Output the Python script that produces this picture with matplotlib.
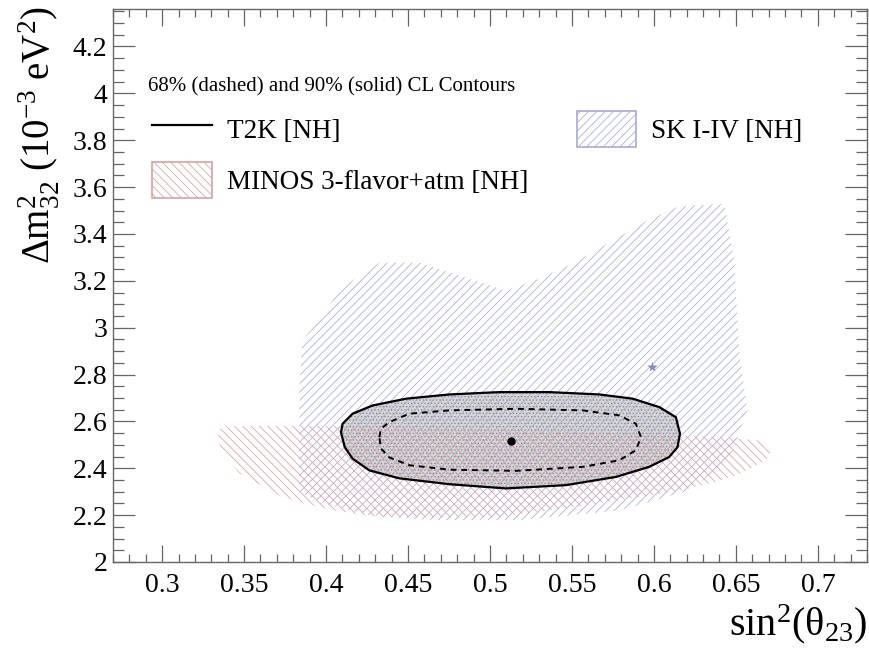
import matplotlib
matplotlib.use("Agg")
import matplotlib.pyplot as plt
from matplotlib.lines import Line2D
from matplotlib.patches import Patch, Polygon
from matplotlib.ticker import MultipleLocator, FormatStrFormatter

plt.rcParams['font.family'] = ['Liberation Serif', 'DejaVu Serif']
plt.rcParams['mathtext.fontset'] = 'custom'
plt.rcParams['mathtext.rm'] = 'Liberation Serif'
plt.rcParams['mathtext.it'] = 'Liberation Serif:italic'
plt.rcParams['hatch.linewidth'] = 0.55

# --- contours: (sin^2 theta23, dm2_32 [1e-3 eV^2]) ---
t2k90_x = [0.4091, 0.4101, 0.4162, 0.4284, 0.4488, 0.4752, 0.5057, 0.5362, 0.5667,
           0.5870, 0.6033, 0.6134, 0.6159, 0.6144, 0.6093, 0.5971, 0.5768, 0.5463,
           0.5098, 0.4752, 0.4447, 0.4264, 0.4162, 0.4114]
t2k90_y = [2.554, 2.590, 2.633, 2.668, 2.697, 2.715, 2.725, 2.725, 2.715,
           2.697, 2.661, 2.618, 2.548, 2.490, 2.448, 2.406, 2.363, 2.328,
           2.314, 2.332, 2.357, 2.391, 2.441, 2.490]

t2k68_x = [0.4325, 0.4335, 0.4386, 0.4508, 0.4752, 0.5159, 0.5565, 0.5788, 0.5890,
           0.5921, 0.5890, 0.5788, 0.5565, 0.5159, 0.4752, 0.4508, 0.4386, 0.4335]
t2k68_y = [2.533, 2.569, 2.597, 2.633, 2.647, 2.654, 2.647, 2.626, 2.590,
           2.533, 2.477, 2.434, 2.406, 2.389, 2.394, 2.413, 2.446, 2.484]

sk90_x = [0.3837, 0.3837, 0.3855, 0.3940, 0.4080, 0.4160, 0.4325, 0.4570, 0.4855,
          0.5100, 0.5300, 0.5500, 0.5746, 0.5953, 0.6155, 0.6430, 0.6490, 0.6520,
          0.6570, 0.6460, 0.6216, 0.5790, 0.5180, 0.4630, 0.4265, 0.4020, 0.3870]
sk90_y = [2.306, 2.732, 2.945, 3.017, 3.157, 3.200, 3.277, 3.277, 3.213,
          3.157, 3.209, 3.272, 3.370, 3.455, 3.519, 3.528, 3.285, 2.900,
          2.647, 2.434, 2.306, 2.220, 2.179, 2.179, 2.200, 2.243, 2.285]

minos90_x = [0.3337, 0.3360, 0.3837, 0.4750, 0.5667, 0.6440, 0.6640, 0.6720, 0.6686,
             0.6478, 0.6170, 0.5667, 0.5057, 0.4340, 0.4038, 0.3730, 0.3470, 0.3360]
minos90_y = [2.532, 2.579, 2.583, 2.570, 2.553, 2.532, 2.519, 2.477, 2.434,
             2.362, 2.306, 2.251, 2.191, 2.191, 2.221, 2.277, 2.379, 2.477]

t2k_best = (0.5128, 2.515)
sk_best = (0.599, 2.831)

sk_col = '#a8a8dc'
minos_col = '#dca0a0'
sk_hatch = '////'
minos_hatch = '\\\\\\\\'

fig = plt.figure(figsize=(8.69, 6.57), dpi=100)
ax = fig.add_axes([0.130, 0.1446, 0.8677, 0.8417])

t2k90 = list(zip(t2k90_x, t2k90_y))
ax.add_patch(Polygon(t2k90, closed=True, facecolor='#d6d6d6', edgecolor='none', zorder=1))
ax.add_patch(Polygon(t2k90, closed=True, facecolor='none', edgecolor='#888888', lw=0,
                     hatch='.....', zorder=1.5))
ax.add_patch(Polygon(list(zip(sk90_x, sk90_y)), closed=True, facecolor='none',
                     edgecolor=sk_col, lw=0, hatch=sk_hatch, zorder=2))
ax.add_patch(Polygon(list(zip(minos90_x, minos90_y)), closed=True, facecolor='none',
                     edgecolor=minos_col, lw=0, hatch=minos_hatch, zorder=2))
ax.add_patch(Polygon(t2k90, closed=True, facecolor='none', edgecolor='black', lw=1.6,
                     zorder=3))
ax.add_patch(Polygon(list(zip(t2k68_x, t2k68_y)), closed=True, facecolor='none',
                     edgecolor='black', lw=1.4, ls=(0, (3, 2.5)), zorder=3))
ax.plot(*t2k_best, 'o', color='black', ms=5, zorder=4)
ax.plot(*sk_best, '*', color='#8a8ac8', ms=8, mec='none', zorder=4)

ax.set_xlim(0.27, 0.73)
ax.set_ylim(2.0, 4.36)
ax.xaxis.set_major_locator(MultipleLocator(0.05))
ax.xaxis.set_minor_locator(MultipleLocator(0.01))
ax.yaxis.set_major_locator(MultipleLocator(0.2))
ax.yaxis.set_minor_locator(MultipleLocator(0.05))
ax.xaxis.set_major_formatter(FormatStrFormatter('%g'))
ax.yaxis.set_major_formatter(FormatStrFormatter('%g'))
for s in ax.spines.values():
    s.set_color('#666666')
    s.set_linewidth(1.0)
ax.tick_params(which='both', direction='in', top=True, right=True, color='#666666',
               labelsize=20, width=0.9)
ax.tick_params(axis='x', which='major', length=12, pad=8)
ax.tick_params(axis='x', which='minor', length=6)
ax.tick_params(axis='y', which='major', length=16, pad=4)
ax.tick_params(axis='y', which='minor', length=8)

ax.set_xlabel(r'$\mathrm{sin^{2}(θ_{23})}$', fontsize=29, loc='right')
ax.xaxis.set_label_coords(1.0, -0.072)
ax.set_ylabel(r'$\mathrm{Δm^{2}_{32}\ (10^{-3}\ eV^{2})}$', fontsize=28, loc='top')
ax.yaxis.set_label_coords(-0.068, 1.005)

ax.text(0.0464, 0.860, '68% (dashed) and 90% (solid) CL Contours', fontsize=15,
        transform=ax.transAxes, ha='left', va='center')

handles = [Line2D([], [], color='black', lw=1.6),
           Patch(facecolor='none', edgecolor=minos_col, hatch=minos_hatch, lw=1.2),
           Patch(facecolor='none', edgecolor=sk_col, hatch=sk_hatch, lw=1.2)]
labels = ['T2K [NH]', 'MINOS 3-flavor+atm [NH]', 'SK I-IV [NH]']
ax.legend(handles, labels, ncol=2, loc='upper left', bbox_to_anchor=(0.052, 0.815),
          frameon=False, prop={'size': 19.5},
          handlelength=2.2, handleheight=1.67, handletextpad=0.55,
          labelspacing=0.55, columnspacing=1.8, borderpad=0, borderaxespad=0)

fig.savefig('out.png', dpi=100)
